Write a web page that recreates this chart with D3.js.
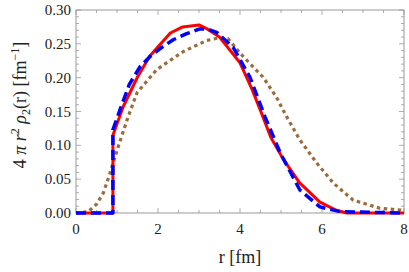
<!DOCTYPE html>
<html><head><meta charset="utf-8">
<script src="https://cdn.jsdelivr.net/npm/d3@7"></script>
<style>body{margin:0;background:#fff}svg{display:block}text{font-family:"Liberation Serif","Times New Roman",serif}</style>
</head><body><svg id="c" width="409" height="272"></svg>
<script>
const xTicks=[0,2,4,6,8];
const yTicks=[0,0.05,0.10,0.15,0.20,0.25,0.30];
const redR=[0,0.9,0.9,1.15,1.5,1.8,2.3,2.6,3.0,3.2,3.5,4.0,4.3,4.56,4.75,5.05,5.45,5.95,6.35,6.6,8];
const redY=[0,0,0.115,0.157,0.201,0.232,0.266,0.275,0.278,0.272,0.26,0.222,0.182,0.142,0.112,0.08,0.045,0.016,0.004,0,0];
const blueR=[0,0.9,0.9,1.07,1.3,1.56,1.8,2.1,2.37,2.7,3.02,3.2,3.43,3.83,4.24,4.61,4.98,5.46,5.95,6.44,8];
const blueY=[0,0,0.123,0.152,0.19,0.216,0.231,0.245,0.256,0.265,0.272,0.272,0.267,0.245,0.201,0.142,0.089,0.034,0.009,0.002,0];
const brownR=[0,0.3,0.5,0.67,0.83,1.03,1.27,1.49,1.97,2.6,3.19,3.5,3.7,4.08,4.56,4.89,5.14,5.46,5.87,6.28,6.76,7.41,8];
const brownY=[0,0.002,0.013,0.03,0.059,0.098,0.142,0.178,0.212,0.238,0.255,0.259,0.258,0.231,0.201,0.171,0.142,0.108,0.074,0.044,0.019,0.007,0.004];

const svg=d3.select("#c");
const x=d3.scaleLinear().domain([0,8]).range([76,404]);
const y=d3.scaleLinear().domain([0,0.30]).range([213,10]);
const frame="#999";

svg.append("rect").attr("x",76).attr("y",10).attr("width",328).attr("height",203)
  .attr("fill","none").attr("stroke",frame).attr("stroke-width",1);

const xMinor=d3.range(0,8.001,0.5);
const yMinor=d3.range(0,0.3001,0.01);
const g=svg.append("g").attr("stroke",frame).attr("stroke-width",0.8);
xMinor.forEach(v=>{
  const major=xTicks.some(t=>Math.abs(t-v)<1e-6);
  const L=major?5:3;
  g.append("line").attr("x1",x(v)).attr("x2",x(v)).attr("y1",213).attr("y2",213-L);
  g.append("line").attr("x1",x(v)).attr("x2",x(v)).attr("y1",10).attr("y2",10+L);
});
yMinor.forEach(v=>{
  const major=yTicks.some(t=>Math.abs(t-v)<1e-6);
  const L=major?5:3;
  g.append("line").attr("y1",y(v)).attr("y2",y(v)).attr("x1",76).attr("x2",76+L);
  g.append("line").attr("y1",y(v)).attr("y2",y(v)).attr("x1",404).attr("x2",404-L);
});

svg.append("g").selectAll("text").data(xTicks).join("text")
  .attr("x",d=>x(d)).attr("y",234).attr("text-anchor","middle")
  .attr("font-size",15).attr("fill","#222").text(d=>d);
svg.append("g").selectAll("text").data(yTicks).join("text")
  .attr("x",71).attr("y",d=>y(d)+5).attr("text-anchor","end")
  .attr("font-size",15).attr("fill","#222").text(d=>d.toFixed(2));

svg.append("text").attr("x",240).attr("y",263).attr("text-anchor","middle")
  .attr("font-size",18).attr("fill","#222").text("r [fm]");
const yl=svg.append("text").attr("transform","translate(26,105) rotate(-90)")
  .attr("text-anchor","middle").attr("font-size",18).attr("fill","#222");
yl.append("tspan").text("4 ");
yl.append("tspan").attr("font-style","italic").text("π r");
yl.append("tspan").attr("font-size",12).attr("dy",-7).text("2");
yl.append("tspan").attr("dy",7).attr("font-style","italic").text(" ρ");
yl.append("tspan").attr("font-size",12).attr("dy",4).text("2");
yl.append("tspan").attr("dy",-4).text("(r) [fm");
yl.append("tspan").attr("font-size",12).attr("dy",-7).text("−1");
yl.append("tspan").attr("dy",7).text("]");

const line=d3.line().x(d=>x(d[0])).y(d=>y(d[1]));
svg.append("clipPath").attr("id","cp").append("rect").attr("x",76).attr("y",5).attr("width",328).attr("height",210);
const lg=svg.append("g").attr("clip-path","url(#cp)").attr("fill","none").attr("stroke-linejoin","round");
lg.append("path").attr("d",line(d3.zip(brownR,brownY))).attr("stroke","#9c6b3c").attr("stroke-width",3.2).attr("stroke-dasharray","3.5,3.5");
lg.append("path").attr("d",line(d3.zip(redR,redY))).attr("stroke","#ff0000").attr("stroke-width",3);
lg.append("path").attr("d",line(d3.zip(blueR,blueY))).attr("stroke","#0000ff").attr("stroke-width",3.5).attr("stroke-dasharray","10,5");
</script></body></html>
